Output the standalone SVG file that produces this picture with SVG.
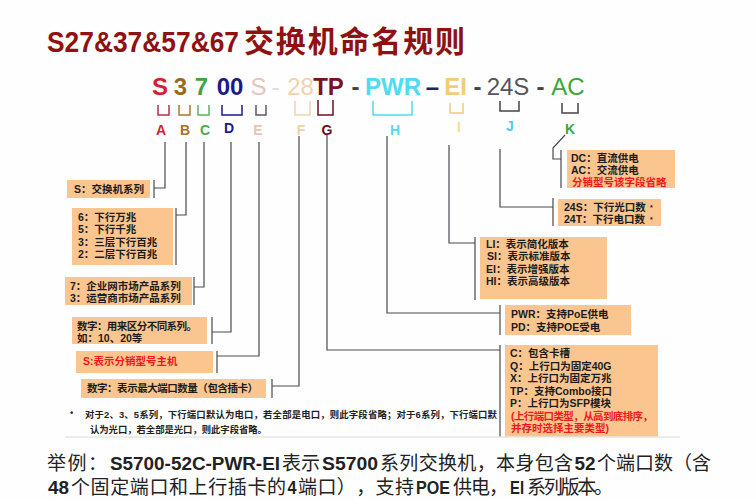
<svg xmlns="http://www.w3.org/2000/svg" width="756" height="500" viewBox="0 0 756 500">
<style>
text{font-family:"Liberation Sans","Noto Sans CJK SC",sans-serif;text-spacing-trim:space-all}
.box{fill:#fbc590}
.t{font-size:10.5px;fill:#1c1c1c;font-weight:700}
.r{fill:#f01818}
.c{fill:none;stroke:#4a4a50;stroke-width:1.2}
.u{fill:none;stroke-width:1.5}
.k{font-size:24px;text-anchor:middle}
.w{font-weight:700}
.l{font-size:14px;text-anchor:middle;font-weight:700}
.f{font-size:9.4px;fill:#222;font-weight:700}
.b{font-size:19px;fill:#222}
.bl{font-size:18px;fill:#222;font-weight:700}
.ti{font-size:30px;font-weight:700;fill:#8e1212}
</style>
<rect width="756" height="500" fill="#fefefe"/>
<g id="title">
<text class="ti" x="47" y="52" textLength="192" lengthAdjust="spacingAndGlyphs">S27&amp;37&amp;57&amp;67</text>
<text class="ti" x="244" y="52" textLength="221" font-weight="500">交换机命名规则</text>
</g>

<g id="code">
<text class="k w" x="160" y="95" fill="#cf2333">S</text>
<text class="k w" x="180.500" y="95" fill="#9a6a1c">3</text>
<text class="k w" x="201.500" y="95" fill="#3fa33f">7</text>
<text class="k w" x="230" y="95" fill="#1a1a8c">00</text>
<text class="k" x="258.500" y="95" fill="#e6c4bc">S</text>
<text class="k" x="275.500" y="95" fill="#dddddd">-</text>
<text class="k" x="300.500" y="95" fill="#f2d2ac">28</text>
<text class="k w" x="328.500" y="95" fill="#7c1220">TP</text>
<text class="k w" x="355.500" y="95" fill="#444">-</text>
<text class="k w" x="393" y="95" fill="#4fdcf0">PWR</text>
<text class="k w" x="432.500" y="95" fill="#20206e">–</text>
<text class="k w" x="455.500" y="95" fill="#f2cc78">EI</text>
<text class="k w" x="477.500" y="95" fill="#444">-</text>
<text class="k" x="508" y="95" fill="#55555c">24S</text>
<text class="k w" x="540.500" y="95" fill="#444">-</text>
<text class="k" x="568" y="95" fill="#3aa83a">AC</text>
</g>
<g id="brackets">
<path class="u" stroke="#b8324a" d="M158 105V115H169V105"/>
<path class="u" stroke="#a87a30" d="M179 105V115H190V105"/>
<path class="u" stroke="#5fb060" d="M198 105V115H209V105"/>
<path class="u" stroke="#1a1a8c" d="M222 105V115H242V105"/>
<path class="u" stroke="#5a5a60" d="M256 105V115H266V105"/>
<path class="u" stroke="#f0d2b0" d="M295 101V115H310V101"/>
<path class="u" stroke="#6e1020" d="M318 100V115H333V100"/>
<path class="u" stroke="#4fdcf0" d="M373 101V115H412V101"/>
<path class="u" stroke="#f2cc78" d="M450 103V113H463V103"/>
<path class="u" stroke="#44444a" d="M500 101V111H519V101"/>
<path class="u" stroke="#44444a" d="M562 103V113H578V103"/>
</g>
<g id="letters">
<text class="l" x="161" y="135" fill="#d01f36">A</text>
<text class="l" x="185" y="135" fill="#a8721e">B</text>
<text class="l" x="205" y="135" fill="#4aaa50">C</text>
<text class="l" x="229" y="133" fill="#1a1a8c">D</text>
<text class="l" x="258" y="135" fill="#eac4b4">E</text>
<text class="l" x="301" y="135" fill="#f2d0a4">F</text>
<text class="l" x="327" y="135" fill="#6a1020">G</text>
<text class="l" x="395" y="135" fill="#4fdcf0">H</text>
<text class="l" x="459" y="132" fill="#f5dc90">I</text>
<text class="l" x="510" y="131" fill="#4fc8f0">J</text>
<text class="l" x="570" y="134" fill="#3aa83a">K</text>
</g>

<g id="connectors">
<path class="c" d="M165 142V188H154M154 180V198"/>
<path class="c" d="M186 142V215H176M176 208V265"/>
<path class="c" d="M204 142V287H194M194 277V305"/>
<path class="c" d="M231 142V332H212M212 317V344"/>
<path class="c" d="M259 142V356H217M217 351V373"/>
<path class="c" d="M299 136V386H272M272 379V398"/>
<path class="c" d="M327 135V350H500M500 345V437"/>
<path class="c" d="M387 136V313H500M500 305V335"/>
<path class="c" d="M449 145V243H475M475 237V300"/>
<path class="c" d="M500 149V207H553M553 198V226"/>
<path class="c" d="M565 135L553 148V159H561M561 150V188"/>
</g>

<g id="box-s"><rect class="box" x="67" y="180" width="83" height="18"/>
<text class="t" x="74" y="193">S：交换机系列</text></g>
<g id="box-speed"><rect class="box" x="72" y="208" width="101" height="57"/>
<text class="t" x="78" y="221">6：下行万兆</text>
<text class="t" x="78" y="233">5：下行千兆</text>
<text class="t" x="78" y="246">3：三层下行百兆</text>
<text class="t" x="78" y="258">2：二层下行百兆</text></g>
<g id="box-market"><rect class="box" x="65" y="277" width="127" height="28"/>
<text class="t" x="70" y="290">7：企业网市场产品系列</text>
<text class="t" x="70" y="302">3：运营商市场产品系列</text></g>
<g id="box-num"><rect class="box" x="72" y="317" width="135" height="27"/>
<text class="t" x="77" y="330" textLength="120">数字：用来区分不同系列。</text>
<text class="t" x="77" y="342">如：10、20等</text></g>
<g id="box-e"><rect class="box" x="76" y="351" width="137" height="22"/>
<text class="t r" x="83" y="365">S:表示分销型号主机</text></g>
<g id="box-f"><rect class="box" x="81" y="379" width="185" height="19"/>
<text class="t" x="87" y="392" textLength="171">数字：表示最大端口数量（包含插卡）</text></g>
<g id="box-k"><rect class="box" x="567" y="150" width="108" height="38"/>
<text class="t" x="571" y="162">DC：直流供电</text>
<text class="t" x="571" y="174">AC：交流供电</text>
<text class="t r" x="572" y="186">分销型号该字段省略</text></g>
<g id="box-j"><rect class="box" x="558" y="199" width="103" height="27"/>
<text class="t" x="564" y="211">24S：下行光口数<tspan x="650" dy="-1" font-size="7">*</tspan></text>
<text class="t" x="564" y="223">24T：下行电口数<tspan x="650" dy="-1" font-size="7">*</tspan></text></g>
<g id="box-i"><rect class="box" x="480" y="237" width="127" height="62"/>
<text class="t" x="486" y="248">LI：表示简化版本</text>
<text class="t" x="487" y="260">SI：表示标准版本</text>
<text class="t" x="486" y="273">EI：表示增强版本</text>
<text class="t" x="486" y="285">HI：表示高级版本</text></g>
<g id="box-h"><rect class="box" x="505" y="305" width="126" height="30"/>
<text class="t" x="511" y="318">PWR：支持PoE供电</text>
<text class="t" x="511" y="331">PD：支持POE受电</text></g>
<g id="box-g"><rect class="box" x="505" y="345" width="153" height="92"/>
<text class="t" x="510" y="357">C：包含卡槽</text>
<text class="t" x="510" y="370">Q：上行口为固定40G</text>
<text class="t" x="510" y="382">X：上行口为固定万兆</text>
<text class="t" x="510" y="395">TP：支持Combo接口</text>
<text class="t" x="510" y="407">P：上行口为SFP模块</text>
<text class="t r" x="511" y="420" textLength="142">(上行端口类型，从高到底排序，</text>
<text class="t r" x="511" y="432">并存时选择主要类型)</text></g>

<g id="note">
<text class="f" x="70" y="416">•</text>
<text class="f" x="85" y="418" textLength="412">对于2、3、5系列，下行端口默认为电口，若全部是电口，则此字段省略；对于6系列，下行端口默</text>
<text class="f" x="90" y="433" textLength="177">认为光口，若全部是光口，则此字段省略。</text>
<path d="M65 437H680" stroke="#e6e6e6" stroke-width="1.5"/>
</g>
<g id="example">
<text class="b" x="47" y="470" textLength="60">举例：</text>
<text class="bl" x="110" y="470" textLength="170" lengthAdjust="spacingAndGlyphs">S5700-52C-PWR-EI</text>
<text class="b" x="282" y="470" textLength="38">表示</text>
<text class="bl" x="322" y="470" textLength="56" lengthAdjust="spacingAndGlyphs">S5700</text>
<text class="b" x="380" y="470" textLength="193">系列交换机，本身包含</text>
<text class="bl" x="574.500" y="470" textLength="21" lengthAdjust="spacingAndGlyphs">52</text>
<text class="b" x="597" y="470" textLength="114">个端口数（含</text>
<text class="bl" x="48" y="494" textLength="21" lengthAdjust="spacingAndGlyphs">48</text>
<text class="b" x="71" y="494" textLength="215">个固定端口和上行插卡的</text>
<text class="bl" x="287.500" y="494" textLength="9" lengthAdjust="spacingAndGlyphs">4</text>
<text class="b" x="298" y="494" textLength="116">端口），支持</text>
<text class="bl" x="416" y="494" textLength="34" lengthAdjust="spacingAndGlyphs">POE</text>
<text class="b" x="453" y="494" textLength="55">供电，</text>
<text class="bl" x="510" y="494" textLength="14" lengthAdjust="spacingAndGlyphs">EI</text>
<text class="b" x="527" y="494" textLength="86">系列版本。</text>
</g>
</svg>
